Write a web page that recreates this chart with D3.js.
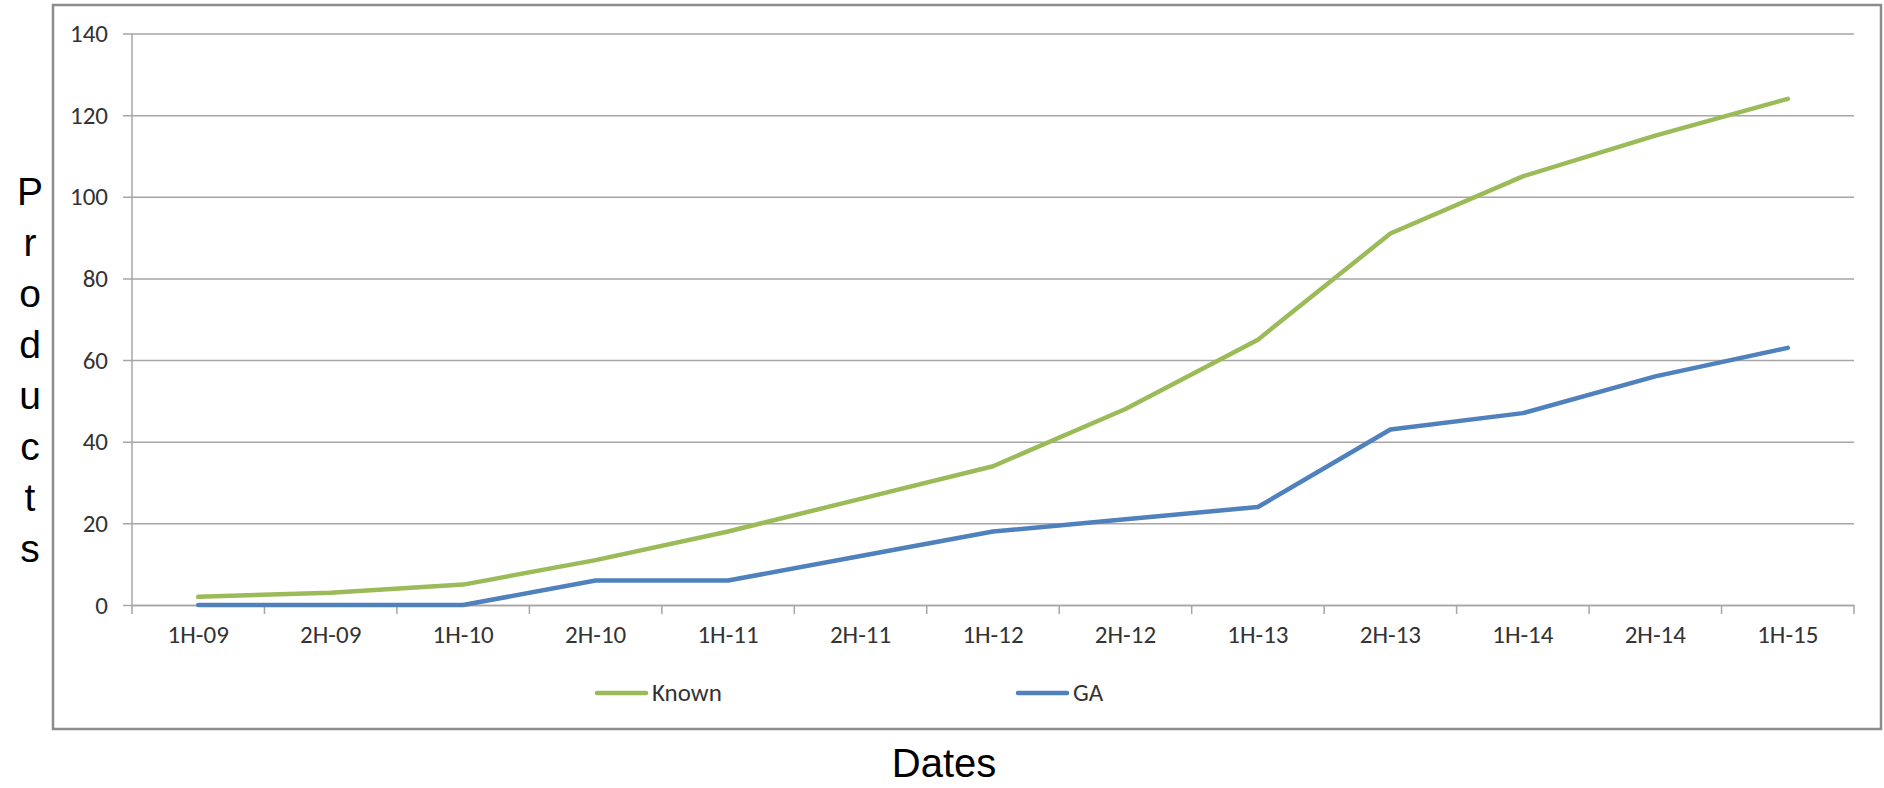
<!DOCTYPE html>
<html>
<head>
<meta charset="utf-8">
<script src="https://cdn.jsdelivr.net/npm/d3@7"></script>
<style>
  body { margin: 0; background: #fff; }
  .tick text { font-family: Carlito, Lato, sans-serif; font-size: 25px; fill: #333; }
</style>
</head>
<body>
<div id="chart"></div>
<script>
// data
var dates = ["1H-09", "2H-09", "1H-10", "2H-10", "1H-11", "2H-11", "1H-12", "2H-12", "1H-13", "2H-13", "1H-14", "2H-14", "1H-15"];
var known = [2, 3, 5, 11, 18, 26, 34, 48, 65, 91, 105, 115, 124];
var ga = [0, 0, 0, 6, 6, 12, 18, 21, 24, 43, 47, 56, 63];
var yTicks = [0, 20, 40, 60, 80, 100, 120, 140];

var W = 1884, H = 788;
var plotL = 132, plotR = 1854, plotT = 33.5, plotB = 605;

var svg = d3.select("#chart")
  .append("svg")
    .attr("width", W)
    .attr("height", H);

// outer frame
svg.append("rect")
  .attr("x", 53).attr("y", 5)
  .attr("width", 1828).attr("height", 724)
  .attr("fill", "none")
  .attr("stroke", "#8c8c8c")
  .attr("stroke-width", 2.5);

var x = d3.scaleBand()
    .domain(dates)
    .range([plotL, plotR]);

var y = d3.scaleLinear()
    .domain([0, 140])
    .range([plotB, plotT]);

// Y axis + gridlines
var yAxis = svg.append("g")
  .attr("transform", "translate(" + (plotL - 9) + ",0)")
  .call(d3.axisLeft(y).tickValues(yTicks).tickSize(-(plotR - plotL + 9)).tickPadding(15));
yAxis.select(".domain").remove();
yAxis.selectAll(".tick line").attr("stroke", "#a6a6a6").attr("stroke-width", 1.5);

// vertical axis line
svg.append("line")
  .attr("x1", plotL).attr("x2", plotL)
  .attr("y1", y(140)).attr("y2", y(0))
  .attr("stroke", "#a6a6a6").attr("stroke-width", 1.5);

// X axis labels
var xAxis = svg.append("g")
  .attr("transform", "translate(0," + plotB + ")")
  .call(d3.axisBottom(x).tickSize(0).tickPadding(20));
xAxis.select(".domain").attr("stroke", "#a6a6a6").attr("stroke-width", 1.5);

// category boundary ticks
var bounds = dates.map(function(d) { return x(d); }).concat([x.range()[1]]);
svg.append("g").selectAll("line")
  .data(bounds)
  .enter().append("line")
    .attr("x1", function(d) { return d; })
    .attr("x2", function(d) { return d; })
    .attr("y1", plotB).attr("y2", plotB + 9)
    .attr("stroke", "#a6a6a6").attr("stroke-width", 1.5);

var line = d3.line()
  .x(function(d, i) { return x(dates[i]) + x.bandwidth() / 2; })
  .y(function(d) { return y(d); });

var series = [
  { name: "Known", values: known, color: "#9bbb59" },
  { name: "GA", values: ga, color: "#4f81bd" }
];

svg.append("g").selectAll("path")
  .data(series.slice().reverse())
  .enter().append("path")
    .attr("d", function(s) { return line(s.values); })
    .attr("fill", "none")
    .attr("stroke", function(s) { return s.color; })
    .attr("stroke-width", 4.5)
    .attr("stroke-linejoin", "round")
    .attr("stroke-linecap", "round");

// legend
var legendX = [597, 1018];
var leg = svg.append("g").selectAll("g")
  .data(series)
  .enter().append("g")
    .attr("transform", function(d, i) { return "translate(" + legendX[i] + ",693)"; });
leg.append("line")
  .attr("x1", 0).attr("x2", 49)
  .attr("stroke", function(d) { return d.color; })
  .attr("stroke-width", 4.5)
  .attr("stroke-linecap", "round");
leg.append("text")
  .attr("x", 55).attr("y", 8)
  .style("font-family", "Carlito, Lato, sans-serif")
  .style("font-size", "25px")
  .style("fill", "#333")
  .text(function(d) { return d.name; });

// axis titles
svg.append("text")
  .attr("x", 944).attr("y", 777)
  .attr("text-anchor", "middle")
  .style("font-family", "Liberation Sans, Arial, sans-serif")
  .style("font-size", "40px")
  .text("Dates");

svg.append("g").selectAll("text")
  .data("Products".split(""))
  .enter().append("text")
    .attr("x", 30)
    .attr("y", function(d, i) { return 205 + i * 51; })
    .attr("text-anchor", "middle")
    .style("font-family", "Liberation Sans, Arial, sans-serif")
    .style("font-size", "39px")
    .text(function(d) { return d; });
</script>
</body>
</html>
